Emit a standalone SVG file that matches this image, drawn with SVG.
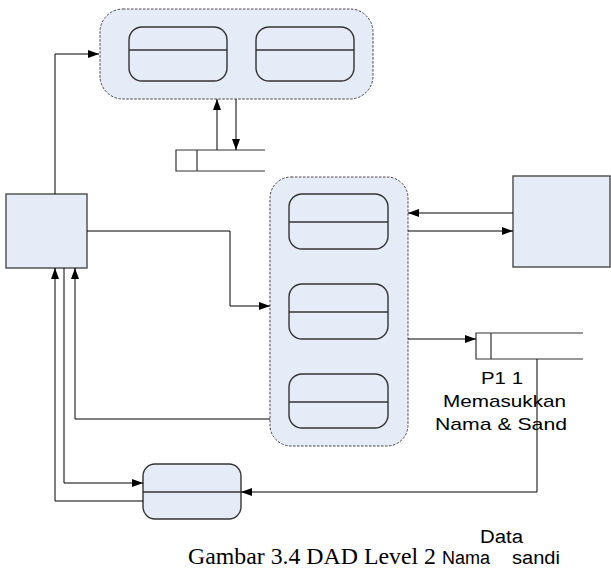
<svg xmlns="http://www.w3.org/2000/svg" width="611" height="570" viewBox="0 0 611 570">
<defs>
<marker id="ah" markerUnits="userSpaceOnUse" markerWidth="11" markerHeight="8" refX="11" refY="4" orient="auto">
<path d="M0,0 L11,4 L0,8 z" fill="#000"/>
</marker>
<style>
.grp{fill:#e6ecf7;stroke:#444;stroke-width:1;stroke-dasharray:2.5,1.5}
.proc{fill:#e6ecf7;stroke:#333;stroke-width:1.4}
.div{stroke:#333;stroke-width:1.4}
.ent{fill:#e6ecf7;stroke:#555;stroke-width:1.5}
.ds{fill:#fff;stroke:#333;stroke-width:1.2}
.con{fill:none;stroke:#000;stroke-width:1}
.arr{marker-end:url(#ah)}
.sans{font-family:"Liberation Sans",Arial,sans-serif;font-size:17px;fill:#000}
.serif{font-family:"Liberation Serif","Times New Roman",serif;font-size:24px;fill:#000}
</style>
</defs>
<rect width="611" height="570" fill="#fff"/>

<g id="top-group">
<rect class="grp" x="100" y="9" width="273" height="90" rx="23"/>
</g>
<g id="proc-top-1">
<rect class="proc" x="129" y="27" width="98" height="54" rx="13"/>
<line class="div" x1="129" y1="50" x2="227" y2="50"/>
</g>
<g id="proc-top-2">
<rect class="proc" x="256" y="27" width="98" height="54" rx="13"/>
<line class="div" x1="256" y1="50" x2="354" y2="50"/>
</g>

<g id="mid-group">
<rect class="grp" x="270" y="177" width="138" height="269" rx="21"/>
</g>
<g id="proc-mid-1">
<rect class="proc" x="289" y="194" width="99" height="55" rx="13"/>
<line class="div" x1="289" y1="222" x2="388" y2="222"/>
</g>
<g id="proc-mid-2">
<rect class="proc" x="289" y="284" width="99" height="55" rx="13"/>
<line class="div" x1="289" y1="312" x2="388" y2="312"/>
</g>
<g id="proc-mid-3">
<rect class="proc" x="289" y="374" width="99" height="54" rx="13"/>
<line class="div" x1="289" y1="402" x2="388" y2="402"/>
</g>

<g id="proc-bottom">
<rect class="proc" x="143" y="464" width="98" height="55" rx="12"/>
<line class="div" x1="143" y1="492" x2="241" y2="492"/>
</g>

<g id="entity-left">
<rect class="ent" x="6" y="194" width="81" height="74"/>
</g>
<g id="entity-right">
<rect class="ent" x="513" y="176" width="97" height="91"/>
</g>

<g id="store-top">
<rect x="176" y="150" width="89" height="21" fill="#fff" stroke="none"/>
<path class="ds" fill="none" d="M265,150 H176 V171 H265 M197,150 V171"/>
</g>
<g id="store-right">
<rect x="476" y="333" width="107" height="26" fill="#fff" stroke="none"/>
<path class="ds" fill="none" d="M583,333 H476 V359 H583 M491,333 V359"/>
</g>

<g id="connectors">
<path class="con arr" d="M55,194 V54 H99"/>
<path class="con arr" d="M236,99 V150"/>
<path class="con arr" d="M217,150 V99"/>
<path class="con arr" d="M87,231 H230 V306 H270"/>
<path class="con arr" d="M513,213 H408"/>
<path class="con arr" d="M408,231 H513"/>
<path class="con arr" d="M408,339 H476"/>
<path class="con arr" d="M270,419 H75 V268"/>
<path class="con arr" d="M64,268 V483 H143"/>
<path class="con arr" d="M143,501 H55 V268"/>
<path class="con arr" d="M537,359 V492 H241"/>
</g>

<g id="labels">
<text class="sans" x="481" y="384" textLength="42" lengthAdjust="spacingAndGlyphs">P1 1</text>
<text class="sans" x="443" y="407" textLength="123" lengthAdjust="spacingAndGlyphs">Memasukkan</text>
<text class="sans" x="435" y="430" textLength="132" lengthAdjust="spacingAndGlyphs">Nama &amp; Sand</text>
<text class="sans" x="480" y="543" style="font-size:18px" textLength="43" lengthAdjust="spacingAndGlyphs">Data</text>
<text class="sans" y="564" style="font-size:18px"><tspan x="442" textLength="48" lengthAdjust="spacingAndGlyphs">Nama</tspan> <tspan x="512" textLength="48" lengthAdjust="spacingAndGlyphs">sandi</tspan></text>
<text class="serif" x="188" y="564" textLength="248" lengthAdjust="spacingAndGlyphs">Gambar 3.4 DAD Level 2</text>
</g>
</svg>
